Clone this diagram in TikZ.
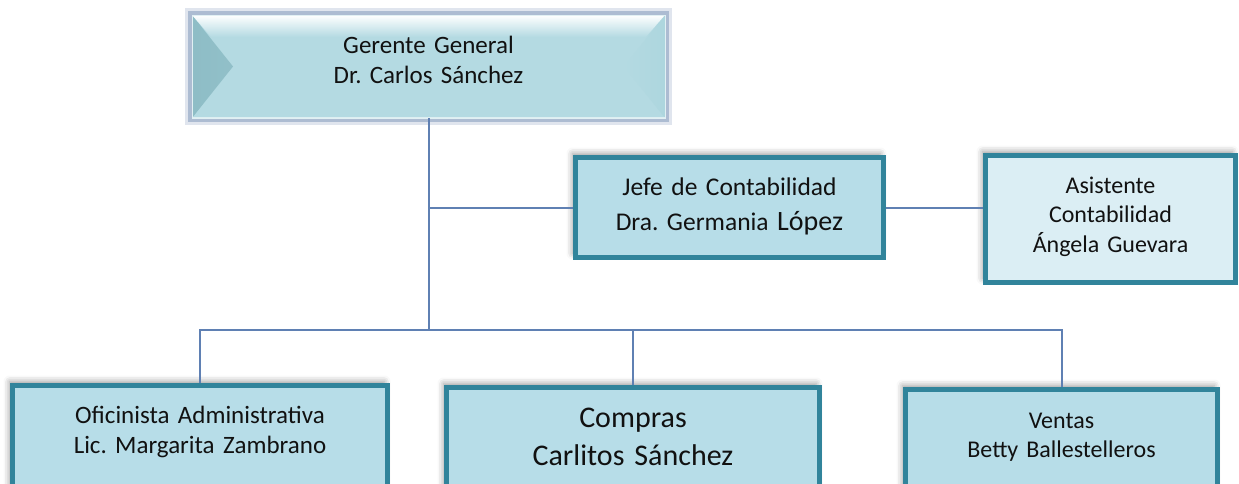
\documentclass[tikz,border=0pt]{standalone}
\usepackage{fontspec}
\setmainfont{Carlito}
\usepackage{tikz}
\usetikzlibrary{positioning,shadows.blur}
\definecolor{unitfill}{HTML}{B7DDE8}
\definecolor{asistfill}{HTML}{DBEEF4}
\definecolor{boxline}{HTML}{31849B}
\definecolor{topfill}{HTML}{B4DAE2}
\definecolor{beveldark}{HTML}{8EBDC6}
\definecolor{bevellight}{HTML}{ADD6DE}
\definecolor{glowblue}{HTML}{98AAC6}
\definecolor{linkblue}{HTML}{5F80B3}
\definecolor{txt}{HTML}{111111}
\frenchspacing

\begin{document}
\begin{tikzpicture}[x=0.5pt,y=-0.5pt,
  link/.style={draw=linkblue, line width=1pt},
  unit/.style={draw=boxline, line width=2.5pt, fill=unitfill, inner sep=0pt,
    anchor=north west, align=center, text=txt,
    blur shadow={shadow xshift=-1.5pt, shadow yshift=2pt, shadow blur radius=3pt, shadow opacity=40}},
  gerentebox/.style={fill=topfill, draw=white!60!topfill, line width=0.5pt,
    inner sep=0pt, outer sep=0pt, anchor=north west, align=center, text=txt,
    preaction={draw=glowblue, line width=7pt, opacity=.3},
    preaction={draw=glowblue, line width=4pt, opacity=.7},
    path picture={
      \shade[left color=beveldark, right color=topfill]
        (path picture bounding box.north west) -- ([xshift=20.5pt]path picture bounding box.west)
        -- (path picture bounding box.south west) -- cycle;
      \shade[right color=bevellight, left color=topfill]
        (path picture bounding box.north east) -- ([xshift=-20.5pt]path picture bounding box.east)
        -- (path picture bounding box.south east) -- cycle;
      \shade[top color=white, bottom color=topfill]
        (path picture bounding box.north west) -- (path picture bounding box.north east)
        -- ([xshift=-9.6pt,yshift=-11pt]path picture bounding box.north east)
        -- ([xshift=9.6pt,yshift=-11pt]path picture bounding box.north west) -- cycle;
      \draw[white!55!topfill, line width=1pt]
        (path picture bounding box.south west) -- (path picture bounding box.south east);
    }}]
  \useasboundingbox (0,0) rectangle (1239,483);
  \clip (0,0) rectangle (1239,483);

  \coordinate (bus) at (0,330);

  % cargos
  \node[gerentebox, text width=236.5pt, text height=19pt, text depth=32.5pt,
    font=\fontsize{12.5}{15}\selectfont] (gerente) at (192,15)
    {Gerente General\\Dr. Carlos Sánchez};
  \node[unit, text width=154pt, text height=18.75pt, text depth=31.25pt,
    font=\fontsize{12.75}{17.5}\selectfont] (jefe) at (573,155)
    {Jefe de Contabilidad\\Dra. Germania {\fontsize{14}{17.5}\selectfont López}};
  \node[unit, fill=asistfill, text width=125pt, text height=18.75pt, text depth=44.75pt,
    font=\fontsize{12}{14.75}\selectfont] (asistente) at (983,153)
    {Asistente\\Contabilidad\\Ángela Guevara};
  \node[unit, text width=187.5pt, text height=18.75pt, text depth=40pt,
    font=\fontsize{12.5}{15}\selectfont] (oficinista) at (10,383)
    {Oficinista Administrativa\\Lic. Margarita Zambrano};
  \node[unit, text width=186.5pt, text height=19.75pt, text depth=39pt,
    font=\fontsize{15}{19}\selectfont] (compras) at (444,385)
    {Compras\\Carlitos Sánchez};
  \node[unit, text width=156pt, text height=19.25pt, text depth=39.5pt,
    font=\fontsize{12}{14.5}\selectfont] (ventas) at (903,387)
    {Ventas\\Betty Ballestelleros};

  % lineas
  \draw[link] (gerente.south) -- (gerente.south |- bus);
  \draw[link] (jefe.west) -- (jefe.west -| gerente.south);
  \draw[link] (jefe.east) -- (jefe.east -| asistente.west);
  \draw[link] (oficinista.north) |- (ventas.north |- bus) -- (ventas.north);
  \draw[link] (compras.north) -- (compras.north |- bus);
\end{tikzpicture}
\end{document}
